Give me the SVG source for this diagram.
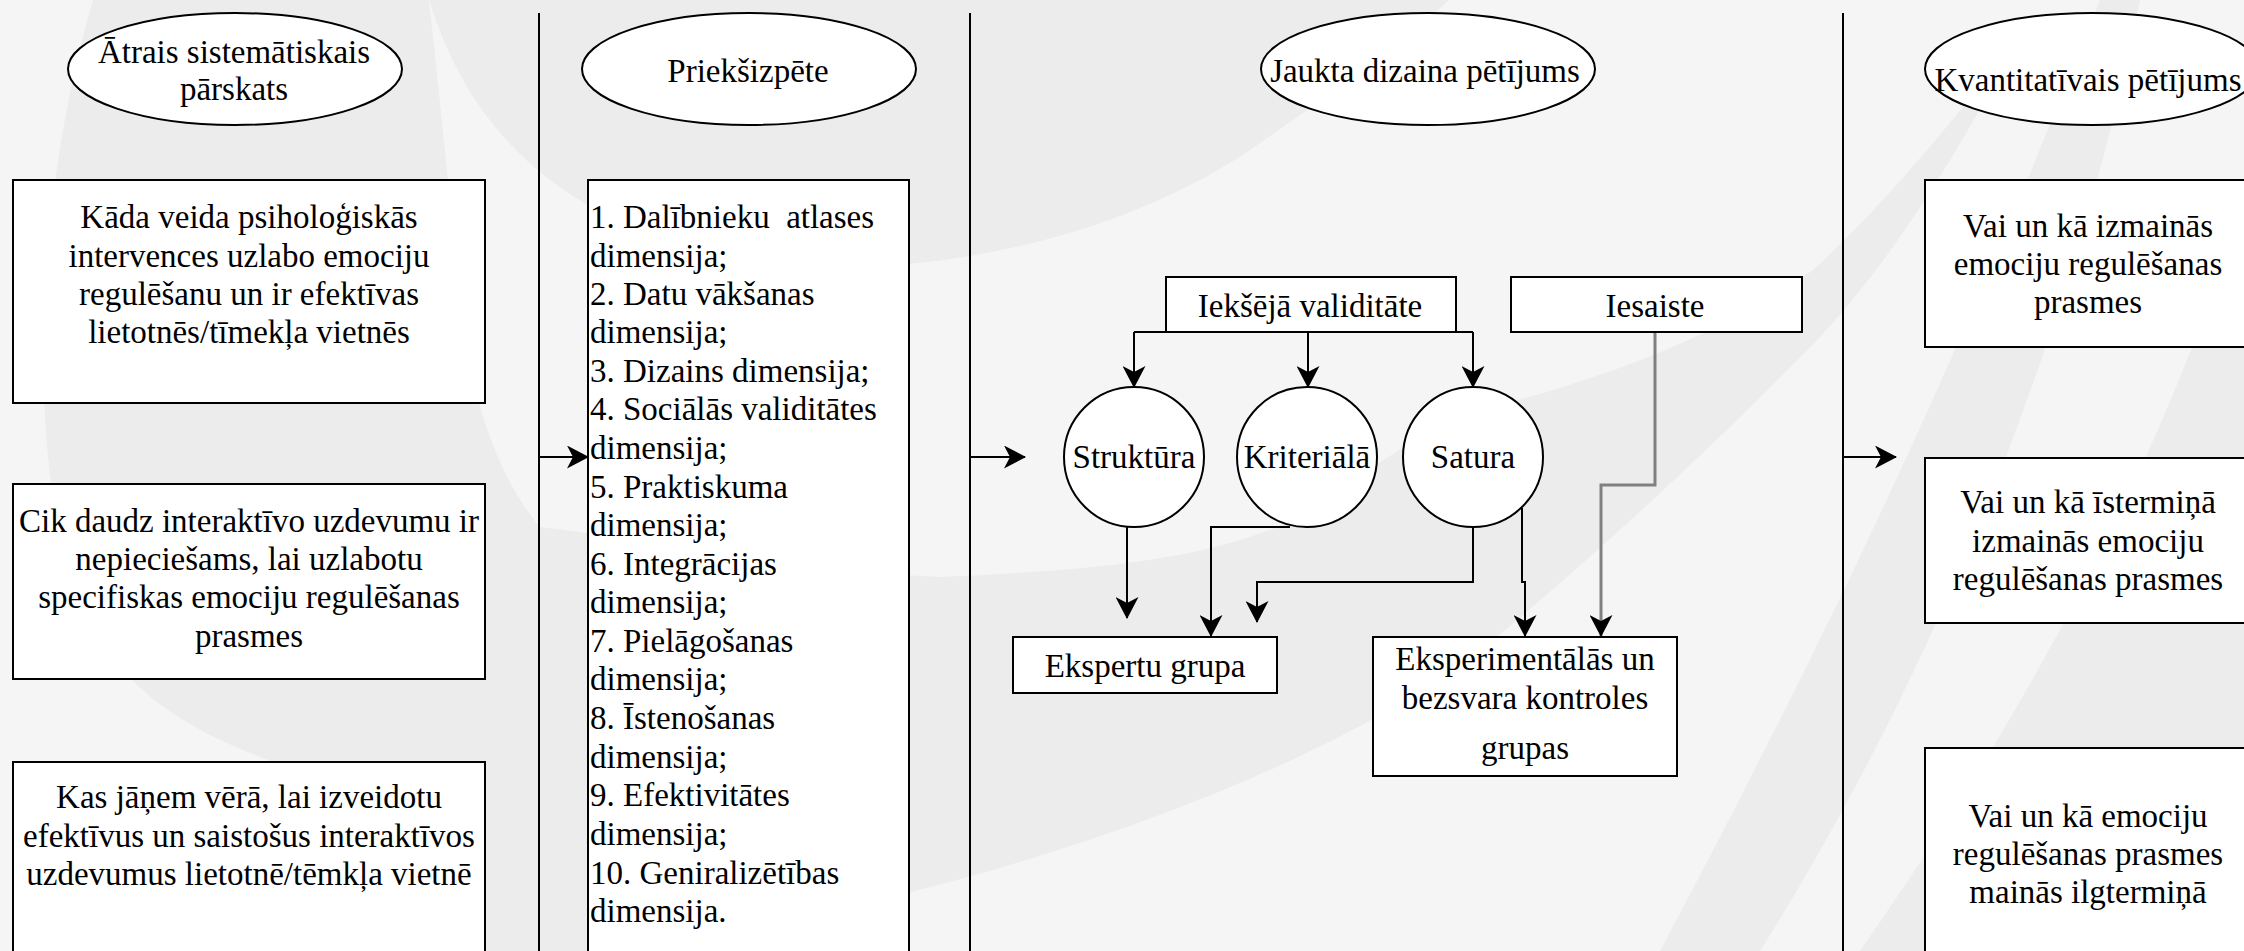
<svg xmlns="http://www.w3.org/2000/svg" width="2244" height="951" viewBox="0 0 2244 951">
<style>
.t{font-family:"Liberation Serif","Times New Roman",serif;font-size:33px;fill:#000}
.c{text-anchor:middle}
.box{fill:#fff;stroke:#000;stroke-width:2}
.lane{stroke:#000;stroke-width:2;fill:none}
.con{stroke:#000;stroke-width:2;fill:none}
.gray{stroke:#808080;stroke-width:3;fill:none}
.bgl{fill:#f5f5f5}
</style>
<defs>
<marker id="arr" viewBox="0 0 22 23" refX="21" refY="11.5" markerWidth="22" markerHeight="23" markerUnits="userSpaceOnUse" orient="auto">
<path d="M0,0 L22,11.5 L0,23 L6,11.5 Z" fill="#000"/>
</marker>
</defs>
<g id="background">
<rect x="0" y="0" width="2244" height="951" fill="#ececec"/>
<path class="bgl" d="M0,0 H93 C40,180 25,420 70,580 C110,690 190,730 268,760 C340,800 420,880 470,951 H0 Z"/>
<path class="bgl" d="M429,0 C470,130 560,230 760,262 C900,280 1100,250 1250,150 C1330,95 1400,45 1449,0 H2050 C1960,110 1900,190 1813,270 C1700,350 1560,390 1480,410 C1400,440 1330,500 1287,523 C1200,560 1100,570 940,577 C800,570 650,540 540,527 C500,480 470,400 460,300 C450,200 440,100 429,0 Z"/>
<path class="bgl" d="M600,951 C1000,900 1350,760 1497,637 C1600,550 1700,460 1820,337 C1900,250 1960,150 2040,0 H2100 C2000,250 1900,500 1660,951 Z"/>
<path class="bgl" d="M2140,0 H2244 V200 C2150,500 2000,750 1860,951 H1760 C1950,650 2080,300 2140,0 Z"/>
</g>
<g id="lanes">
<line class="lane" x1="539" y1="13" x2="539" y2="951"/>
<line class="lane" x1="970" y1="13" x2="970" y2="951"/>
<line class="lane" x1="1843" y1="13" x2="1843" y2="951"/>
</g>
<g id="ellipse-atrais">
<ellipse class="box" cx="235" cy="69" rx="167" ry="56"/>
<text class="t c" x="234" y="63">Ātrais sistemātiskais</text>
<text class="t c" x="234" y="100">pārskats</text>
</g>
<g id="ellipse-prieks">
<ellipse class="box" cx="749" cy="69" rx="167" ry="56"/>
<text class="t c" x="748" y="82">Priekšizpēte</text>
</g>
<g id="ellipse-jaukta">
<ellipse class="box" cx="1428" cy="69" rx="167" ry="56"/>
<text class="t c" x="1425" y="82">Jaukta dizaina pētījums</text>
</g>
<g id="ellipse-kvant">
<ellipse class="box" cx="2092" cy="69" rx="167" ry="56"/>
<text class="t c" x="2088" y="91">Kvantitatīvais pētījums</text>
</g>
<g id="q1">
<rect class="box" x="13" y="180" width="472" height="223"/>
<text class="t c" x="249" y="228">Kāda veida psiholoģiskās</text>
<text class="t c" x="249" y="267">intervences uzlabo emociju</text>
<text class="t c" x="249" y="305">regulēšanu un ir efektīvas</text>
<text class="t c" x="249" y="343">lietotnēs/tīmekļa vietnēs</text>
</g>
<g id="q2">
<rect class="box" x="13" y="484" width="472" height="195"/>
<text class="t c" x="249" y="532">Cik daudz interaktīvo uzdevumu ir</text>
<text class="t c" x="249" y="570">nepieciešams, lai uzlabotu</text>
<text class="t c" x="249" y="608">specifiskas emociju regulēšanas</text>
<text class="t c" x="249" y="647">prasmes</text>
</g>
<g id="q3">
<rect class="box" x="13" y="762" width="472" height="200"/>
<text class="t c" x="249" y="808">Kas jāņem vērā, lai izveidotu</text>
<text class="t c" x="249" y="847">efektīvus un saistošus interaktīvos</text>
<text class="t c" x="249" y="885">uzdevumus lietotnē/tēmkļa vietnē</text>
</g>
<g id="dimensions">
<rect class="box" x="588" y="180" width="321" height="790"/>
<text class="t" x="590" y="228" xml:space="preserve">1. Dalībnieku  atlases</text>
<text class="t" x="590" y="267">dimensija;</text>
<text class="t" x="590" y="305">2. Datu vākšanas</text>
<text class="t" x="590" y="343">dimensija;</text>
<text class="t" x="590" y="382">3. Dizains dimensija;</text>
<text class="t" x="590" y="420">4. Sociālās validitātes</text>
<text class="t" x="590" y="459">dimensija;</text>
<text class="t" x="590" y="498">5. Praktiskuma</text>
<text class="t" x="590" y="536">dimensija;</text>
<text class="t" x="590" y="575">6. Integrācijas</text>
<text class="t" x="590" y="613">dimensija;</text>
<text class="t" x="590" y="652">7. Pielāgošanas</text>
<text class="t" x="590" y="690">dimensija;</text>
<text class="t" x="590" y="729">8. Īstenošanas</text>
<text class="t" x="590" y="768">dimensija;</text>
<text class="t" x="590" y="806">9. Efektivitātes</text>
<text class="t" x="590" y="845">dimensija;</text>
<text class="t" x="590" y="884">10. Geniralizētības</text>
<text class="t" x="590" y="922">dimensija.</text>
</g>
<g id="connectors">
<path class="con" d="M539,457 H588" marker-end="url(#arr)"/>
<path class="con" d="M970,457 H1025" marker-end="url(#arr)"/>
<path class="con" d="M1843,457 H1896" marker-end="url(#arr)"/>
<path class="con" d="M1134,332 H1473"/>
<path class="con" d="M1134,332 V387" marker-end="url(#arr)"/>
<path class="con" d="M1308,332 V387" marker-end="url(#arr)"/>
<path class="con" d="M1473,332 V387" marker-end="url(#arr)"/>
<path class="con" d="M1127,527 V618" marker-end="url(#arr)"/>
<path class="con" d="M1290,527 H1211 V636" marker-end="url(#arr)"/>
<path class="con" d="M1473,527 V582 H1257 V622" marker-end="url(#arr)"/>
<path class="con" d="M1522,508 V582 H1525 V636" marker-end="url(#arr)"/>
<path class="gray" d="M1655,332 V485 H1601 V636" marker-end="url(#arr)"/>
</g>
<g id="iekseja">
<rect class="box" x="1166" y="277" width="290" height="55"/>
<text class="t c" x="1310" y="317">Iekšējā validitāte</text>
</g>
<g id="iesaiste">
<rect class="box" x="1511" y="277" width="291" height="55"/>
<text class="t c" x="1655" y="317">Iesaiste</text>
</g>
<g id="struktura">
<circle class="box" cx="1134" cy="457" r="70"/>
<text class="t c" x="1134" y="468">Struktūra</text>
</g>
<g id="kriteriala">
<circle class="box" cx="1307" cy="457" r="70"/>
<text class="t c" x="1307" y="468">Kriteriālā</text>
</g>
<g id="satura">
<circle class="box" cx="1473" cy="457" r="70"/>
<text class="t c" x="1473" y="468">Satura</text>
</g>
<g id="ekspertu">
<rect class="box" x="1013" y="637" width="264" height="56"/>
<text class="t c" x="1145" y="677">Ekspertu grupa</text>
</g>
<g id="eksperimentalas">
<rect class="box" x="1373" y="637" width="304" height="139"/>
<text class="t c" x="1525" y="670">Eksperimentālās un</text>
<text class="t c" x="1525" y="709">bezsvara kontroles</text>
<text class="t c" x="1525" y="759">grupas</text>
</g>
<g id="r1">
<rect class="box" x="1925" y="180" width="330" height="167"/>
<text class="t c" x="2088" y="237">Vai un kā izmainās</text>
<text class="t c" x="2088" y="275">emociju regulēšanas</text>
<text class="t c" x="2088" y="313">prasmes</text>
</g>
<g id="r2">
<rect class="box" x="1925" y="458" width="330" height="165"/>
<text class="t c" x="2088" y="513">Vai un kā īstermiņā</text>
<text class="t c" x="2088" y="552">izmainās emociju</text>
<text class="t c" x="2088" y="590">regulēšanas prasmes</text>
</g>
<g id="r3">
<rect class="box" x="1925" y="748" width="330" height="220"/>
<text class="t c" x="2088" y="827">Vai un kā emociju</text>
<text class="t c" x="2088" y="865">regulēšanas prasmes</text>
<text class="t c" x="2088" y="903">mainās ilgtermiņā</text>
</g>
</svg>
